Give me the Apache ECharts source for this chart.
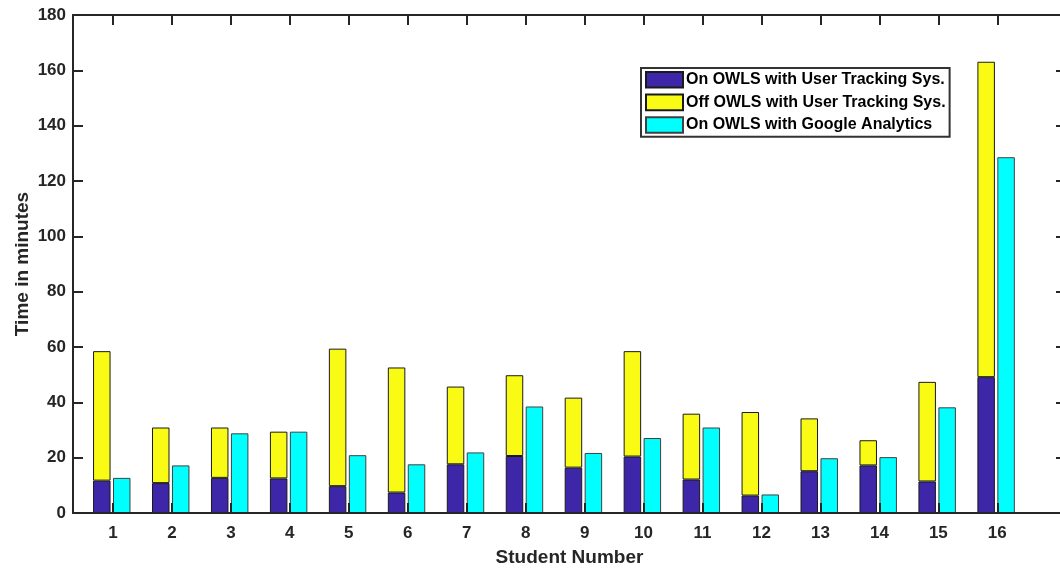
<!DOCTYPE html>
<html>
<head>
<meta charset="utf-8">
<script src="https://cdn.jsdelivr.net/npm/echarts@6/dist/echarts.min.js"></script>
<style>
html,body{margin:0;padding:0;background:#fff;}
#chart{width:1060px;height:569px;}
</style>
</head>
<body>
<div id="chart"></div>
<script>
// Student numbers (x categories)
var students = [1,2,3,4,5,6,7,8,9,10,11,12,13,14,15,16];
// On OWLS with User Tracking Sys. (bottom of stacked bar)
var onTracking = [11.7, 10.8, 12.7, 12.5, 9.7, 7.4, 17.6, 20.6, 16.4, 20.4, 12.1, 6.3, 15.1, 17.2, 11.4, 49.1];
// Off OWLS with User Tracking Sys. (segment stacked on top)
var offTracking = [46.8, 20.1, 18.2, 16.9, 49.7, 45.2, 28.1, 29.2, 25.3, 38.1, 23.8, 30.2, 19.1, 9.1, 36.0, 114.0];
// On OWLS with Google Analytics
var google = [12.7, 17.2, 28.8, 29.4, 20.9, 17.6, 21.9, 38.5, 21.7, 27.1, 30.9, 6.7, 19.8, 20.2, 38.2, 128.6];
// y tick labels
var yTicks = [0, 20, 40, 60, 80, 100, 120, 140, 160, 180];

var seriesNames = ['On OWLS with User Tracking Sys.', 'Off OWLS with User Tracking Sys.', 'On OWLS with Google Analytics'];

var FONT = 'Liberation Sans, Arial, sans-serif';
var axisColor = '#262626';
var chart = echarts.init(document.getElementById('chart'), null, {renderer:'canvas'});

// frame axes (grid 0): x limits in student units
var xMin = 0.322, xMax = 17.165;
var frameX = {
  type: 'value', gridIndex: 0, min: xMin, max: xMax, z: 5,
  splitLine: {show:false},
  axisLine: {show:true, onZero:false, lineStyle:{color:axisColor, width:2}},
  axisTick: {show:true, inside:true, length:10, customValues: students, lineStyle:{color:axisColor, width:2}}
};
var frameY = {
  type: 'value', gridIndex: 0, min: yTicks[0], max: yTicks[yTicks.length-1], interval: 20, z: 5,
  splitLine: {show:false},
  axisLine: {show:true, lineStyle:{color:axisColor, width:2}},
  axisTick: {show:true, inside:true, length:10, lineStyle:{color:axisColor, width:2}}
};
// plot-area geometry
var gLeft = 73, gRight = -6, gTop = 15, gBottom = 56;
var plotW = 1060 - gLeft - gRight;
var unit = plotW / (xMax - xMin);
var shift = -1.2; // group sits slightly left of tick
var barLeft = gLeft + (0.5 - xMin) * unit + shift;
var barRight = gRight + (xMax - 16.5) * unit - shift;

var option = {
  animation: false,
  backgroundColor: '#fff',
  textStyle: {fontFamily: FONT},
  grid: [
    {left: gLeft, right: gRight, top: gTop, bottom: gBottom, containLabel:false, outerBoundsMode:'none'},
    {left: barLeft, right: barRight, top: gTop, bottom: gBottom, containLabel:false, outerBoundsMode:'none'}
  ],
  legend: {
    orient: 'vertical', left: 641, top: 68, z: 10,
    padding: [3, 4, 3, 4], itemGap: 5, itemWidth: 37, itemHeight: 15.6,
    icon: 'rect',
    borderColor: '#333', borderWidth: 2, backgroundColor: '#fff',
    textStyle: {fontFamily: FONT, fontWeight:'bold', fontSize:16, color:'#000', padding:[0,0,0,-2]},
    data: seriesNames
  },
  xAxis: [
    Object.assign({}, frameX, {
      position: 'bottom',
      name: 'Student Number', nameLocation: 'middle', nameGap: 35, nameMoveOverlap: false,
      nameTextStyle: {fontFamily:FONT, fontWeight:'bold', fontSize:19, color:axisColor},
      axisLabel: {show:true, margin: 12, customValues: students,
        fontFamily:FONT, fontWeight:'bold', fontSize:17, color:axisColor}
    }),
    Object.assign({}, frameX, {position: 'top', axisLabel:{show:false}}),
    {type:'category', gridIndex:1, data: students, show:false}
  ],
  yAxis: [
    Object.assign({}, frameY, {
      position: 'left',
      name: 'Time in minutes', nameLocation: 'middle', nameGap: 41, nameMoveOverlap: false,
      nameTextStyle: {fontFamily:FONT, fontWeight:'bold', fontSize:19, color:axisColor},
      axisLabel: {show:true, margin: 7, fontFamily:FONT, fontWeight:'bold', fontSize:17, color:axisColor}
    }),
    Object.assign({}, frameY, {position: 'right', axisLabel:{show:false}}),
    {type:'value', gridIndex:1, min: yTicks[0], max: yTicks[yTicks.length-1], show:false, splitLine:{show:false}}
  ],
  series: [
    {name: seriesNames[0], type:'bar', xAxisIndex:2, yAxisIndex:2, stack:'tracking', barWidth:17.5, barGap:'14%',
     itemStyle:{color:'#3e26a8', borderColor:'#1a1a1a', borderWidth:1}, data: onTracking},
    {name: seriesNames[1], type:'bar', xAxisIndex:2, yAxisIndex:2, stack:'tracking', barWidth:17.5, barGap:'14%',
     itemStyle:{color:'#f9fb15', borderColor:'#1a1a1a', borderWidth:1}, data: offTracking},
    {name: seriesNames[2], type:'bar', xAxisIndex:2, yAxisIndex:2, stack:'google', barWidth:17.5, barGap:'14%',
     itemStyle:{color:'#00ffff', borderColor:'#404040', borderWidth:1}, data: google}
  ]
};
chart.setOption(option);
</script>
</body>
</html>
